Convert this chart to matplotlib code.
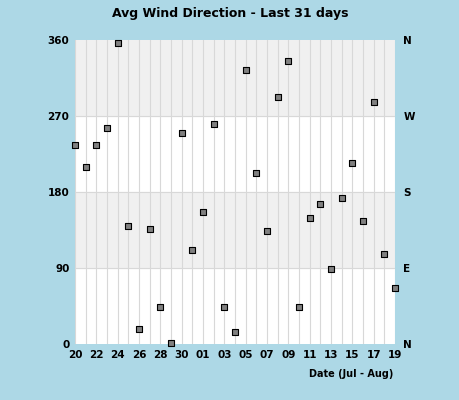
import matplotlib
matplotlib.use("Agg")
import matplotlib.pyplot as plt

day_labels = ["20","21","22","23","24","25","26","27","28","29","30","31","01","02","03","04",
              "05","06","07","08","09","10","11","12","13","14","15","16","17","18","19"]
direction = [236,210,236,256,357,140,18,136,44,1,250,111,156,261,44,14,
             325,203,134,293,335,44,149,166,89,173,214,146,287,107,66]
tick_labels = ["20","22","24","26","28","30","01","03","05","07","09","11","13","15","17","19"]

fig = plt.figure(figsize=(4.6, 4.0), dpi=100, facecolor="#ADD8E6")
ax = fig.add_axes([0.163, 0.14, 0.696, 0.76])
ax.set_facecolor("white")
x = list(range(len(direction)))
ax.axhspan(90, 180, color="#F0F0F0", zorder=0)
ax.axhspan(270, 360, color="#F0F0F0", zorder=0)
for i in x:
    ax.axvline(i, color="#D8D8D8", lw=0.8, zorder=1)
for yv in [90, 180, 270]:
    ax.axhline(yv, color="#D8D8D8", lw=0.8, zorder=1)
ax.scatter(x, direction, marker="s", s=14, facecolor="#808080", edgecolor="black", linewidth=0.8, zorder=3, clip_on=False)
ax.set_xlim(0, len(direction) - 1)
ax.set_ylim(0, 360)
ax.set_xticks(x[::2])
ax.set_xticklabels(tick_labels, fontsize=7.5, fontweight="bold")
ax.set_yticks([0, 90, 180, 270, 360])
ax.set_yticklabels(["0", "90", "180", "270", "360"], fontsize=7.5, fontweight="bold")
ax.tick_params(length=0, pad=4)
for s in ax.spines.values():
    s.set_visible(False)
ax2 = ax.twinx()
ax2.set_ylim(0, 360)
ax2.set_yticks([0, 90, 180, 270, 360])
ax2.set_yticklabels(["N", "E", "S", "W", "N"], fontsize=7.5, fontweight="bold")
ax2.tick_params(length=0, pad=6)
for s in ax2.spines.values():
    s.set_visible(False)
fig.text(0.5, 0.965, "Avg Wind Direction - Last 31 days", ha="center", va="center", fontsize=9, fontweight="bold")
fig.text(0.855, 0.065, "Date (Jul - Aug)", ha="right", va="center", fontsize=7, fontweight="bold")
fig.savefig("out.png", dpi=100, facecolor=fig.get_facecolor())
